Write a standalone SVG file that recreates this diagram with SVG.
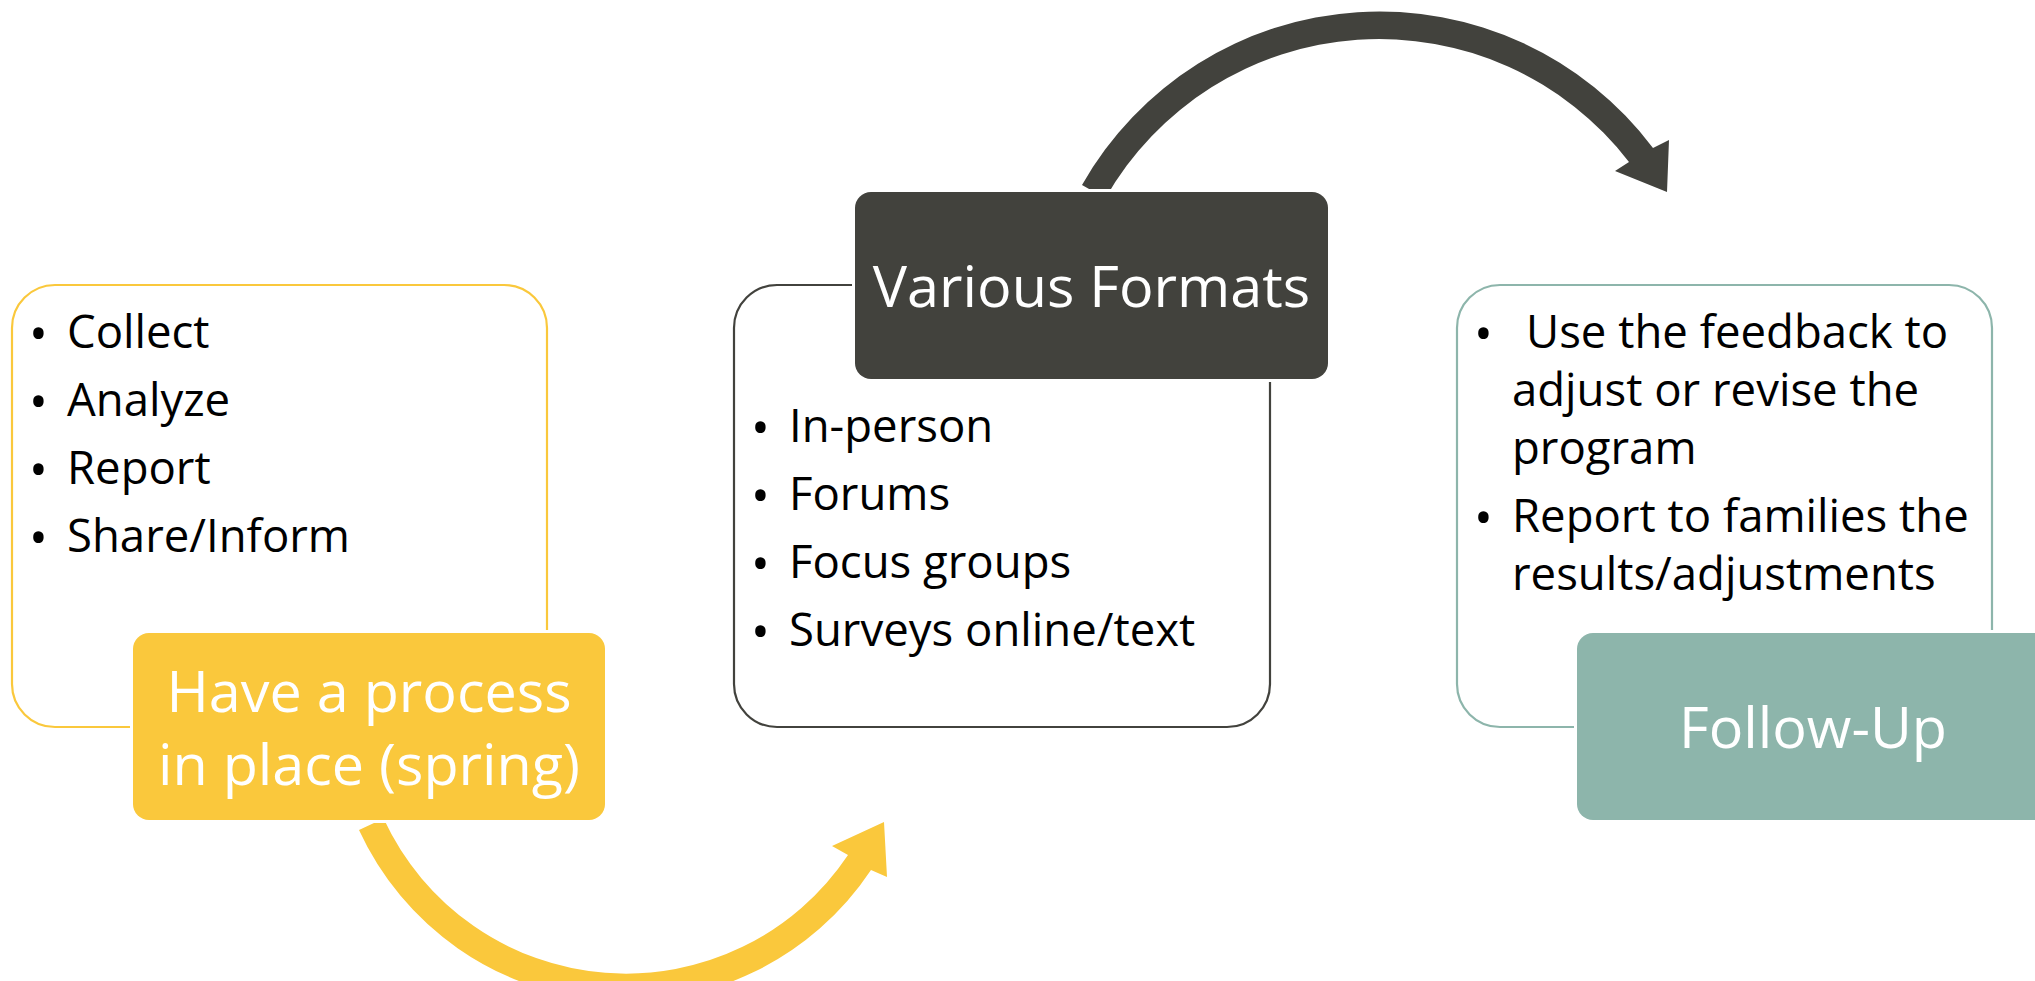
<svg xmlns="http://www.w3.org/2000/svg" width="2035" height="981" viewBox="0 0 2035 981">
  <style>
    .body { font-family: "Open Sans", "Noto Sans", "Liberation Sans", sans-serif; font-size: 45.5px; fill: #000; }
    .dot { font-size: 50px; }
    .label { font-family: "Open Sans", "Noto Sans", "Liberation Sans", sans-serif; font-size: 57.5px; fill: #fff; text-anchor: middle; }
    .frame { fill: #fff; stroke-width: 2.2; }
    .gap { fill: #fff; }
  </style>

  <rect width="2035" height="981" fill="#fff"/>

  <!-- curved block arrows linking the steps -->
  <g id="connectors">
    <path id="arrow-process-to-formats" fill="#FAC83C"
          d="M 383.6,818.6 A 267 267 0 0 0 848,855 L 832,846 L 884,822 L 887,877 L 871,870 A 294 294 0 0 1 359,830 Z"/>
    <path id="arrow-formats-to-followup" fill="#42423D"
          d="M 1105.4,198.3 A 315 315 0 0 1 1629,162 L 1615,171 L 1667,192 L 1669,140 L 1653,148 A 342 342 0 0 0 1082,185 Z"/>
  </g>

  <!-- step 1 -->
  <g id="node-process">
    <rect class="frame" x="12" y="285" width="535" height="442" rx="43" stroke="#FAC83C"/>
    <text class="body"><tspan class="dot" x="29" y="351">•</tspan><tspan x="67" y="348">Collect</tspan></text>
    <text class="body"><tspan class="dot" x="29" y="419">•</tspan><tspan x="67" y="416">Analyze</tspan></text>
    <text class="body"><tspan class="dot" x="29" y="487">•</tspan><tspan x="67" y="484">Report</tspan></text>
    <text class="body"><tspan class="dot" x="29" y="555">•</tspan><tspan x="67" y="552">Share/Inform</tspan></text>
    <rect class="gap" x="130" y="630" width="478" height="193" rx="19"/>
    <rect x="133" y="633" width="472" height="187" rx="16" fill="#FAC83C"/>
    <text class="label" x="369" y="712">Have a process</text>
    <text class="label" x="369" y="785">in place (spring)</text>
  </g>

  <!-- step 2 -->
  <g id="node-formats">
    <rect class="frame" x="734" y="285" width="536" height="442" rx="43" stroke="#42423D"/>
    <text class="body"><tspan class="dot" x="751" y="445">•</tspan><tspan x="789" y="442">In-person</tspan></text>
    <text class="body"><tspan class="dot" x="751" y="513">•</tspan><tspan x="789" y="510">Forums</tspan></text>
    <text class="body"><tspan class="dot" x="751" y="581">•</tspan><tspan x="789" y="578">Focus groups</tspan></text>
    <text class="body"><tspan class="dot" x="751" y="649">•</tspan><tspan x="789" y="646">Surveys online/text</tspan></text>
    <rect class="gap" x="852" y="189" width="479" height="193" rx="19"/>
    <rect x="855" y="192" width="473" height="187" rx="16" fill="#42423D"/>
    <text class="label" x="1091.5" y="307">Various Formats</text>
  </g>

  <!-- step 3 -->
  <g id="node-followup">
    <rect class="frame" x="1457" y="285" width="535" height="442" rx="43" stroke="#8DB5AB"/>
    <text class="body"><tspan class="dot" x="1474" y="351">•</tspan><tspan x="1526" y="348">Use the feedback to</tspan></text>
    <text class="body" x="1512" y="406">adjust or revise the</text>
    <text class="body" x="1512" y="464">program</text>
    <text class="body"><tspan class="dot" x="1474" y="535">•</tspan><tspan x="1512" y="532">Report to families the</tspan></text>
    <text class="body" x="1512" y="590">results/adjustments</text>
    <rect class="gap" x="1574" y="630" width="478" height="193" rx="19"/>
    <rect x="1577" y="633" width="472" height="187" rx="16" fill="#8DB5AB"/>
    <text class="label" x="1813" y="748">Follow-Up</text>
  </g>
</svg>
